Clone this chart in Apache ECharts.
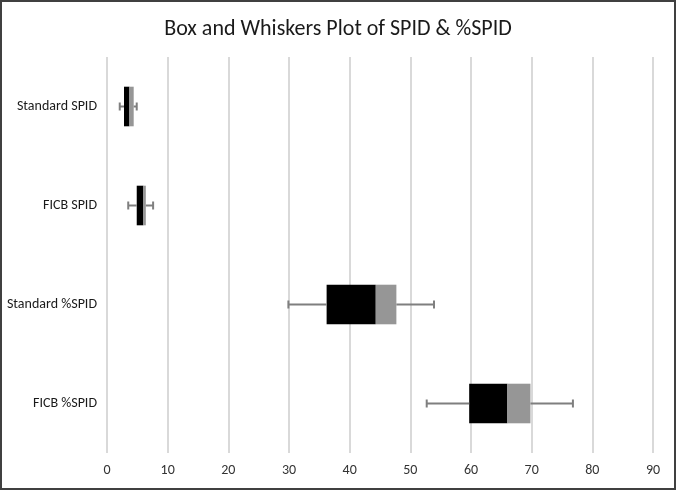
<!DOCTYPE html>
<html>
<head>
<meta charset="utf-8">
<script src="https://cdn.jsdelivr.net/npm/echarts@6/dist/echarts.min.js"></script>
<style>
  html, body { margin: 0; padding: 0; background: #fff; }
  #chart { width: 676px; height: 490px; box-sizing: border-box; border: 2px solid #404040; }
</style>
</head>
<body>
<div id="chart"></div>
<script>
const categories = ['Standard SPID', 'FICB SPID', 'Standard %SPID', 'FICB %SPID'];
const minVals = [2.1, 3.5, 29.9, 52.7];
const q1Vals  = [2.8, 4.9, 36.2, 59.7];
const medVals = [3.7, 6.0, 44.3, 66.0];
const q3Vals  = [4.4, 6.4, 47.7, 69.8];
const maxVals = [4.9, 7.6, 53.9, 76.8];
const xTicks = [0, 10, 20, 30, 40, 50, 60, 70, 80, 90];

const lowerBox = categories.map((c, i) => +(medVals[i] - q1Vals[i]).toFixed(3));
const upperBox = categories.map((c, i) => +(q3Vals[i] - medVals[i]).toFixed(3));
const whiskerData = categories.map((c, i) => [i, minVals[i], q1Vals[i], q3Vals[i], maxVals[i]]);

const chart = echarts.init(document.getElementById('chart'));
const font = 'Carlito, "Open Sans", "Noto Sans", sans-serif';

chart.setOption({
  animation: false,
  title: {
    text: 'Box and Whiskers Plot of SPID & %SPID',
    left: 'center',
    top: 11,
    textStyle: { fontFamily: font, fontSize: 22, fontWeight: 'normal', color: '#1a1a1a' }
  },
  grid: { left: 105, right: 21, top: 55, bottom: 35, containLabel: false },
  xAxis: {
    type: 'value',
    min: xTicks[0],
    max: xTicks[xTicks.length - 1],
    interval: 10,
    axisLine: { show: false },
    axisTick: { show: false },
    axisLabel: { fontFamily: font, fontSize: 14, color: '#333', margin: 10 },
    splitLine: { show: true, lineStyle: { color: '#d9d9d9', width: 2 } }
  },
  yAxis: {
    type: 'category',
    data: categories,
    inverse: true,
    axisLine: { show: false },
    axisTick: { show: false },
    axisLabel: { fontFamily: font, fontSize: 14, color: '#1a1a1a', margin: 10 }
  },
  series: [
    {
      type: 'bar', stack: 'box', data: q1Vals, barWidth: '40%',
      itemStyle: { color: 'transparent' }, silent: true
    },
    {
      type: 'bar', stack: 'box', data: lowerBox, barWidth: '40%',
      itemStyle: { color: '#000000' }
    },
    {
      type: 'bar', stack: 'box', data: upperBox, barWidth: '40%',
      itemStyle: { color: '#969696' }
    },
    {
      type: 'custom',
      data: whiskerData,
      encode: { x: [1, 2, 3, 4], y: 0 },
      z: 5,
      renderItem: function (params, api) {
        const ci = api.value(0);
        const pMin = api.coord([api.value(1), ci]);
        const pQ1 = api.coord([api.value(2), ci]);
        const pQ3 = api.coord([api.value(3), ci]);
        const pMax = api.coord([api.value(4), ci]);
        const y = pMin[1];
        const h = 4;
        const style = { stroke: '#7f7f7f', lineWidth: 2 };
        return {
          type: 'group',
          children: [
            { type: 'line', shape: { x1: pMin[0], y1: y, x2: pQ1[0], y2: y }, style: style },
            { type: 'line', shape: { x1: pQ3[0], y1: y, x2: pMax[0], y2: y }, style: style },
            { type: 'line', shape: { x1: pMin[0], y1: y - h, x2: pMin[0], y2: y + h }, style: style },
            { type: 'line', shape: { x1: pMax[0], y1: y - h, x2: pMax[0], y2: y + h }, style: style }
          ]
        };
      }
    }
  ]
});
</script>
</body>
</html>
